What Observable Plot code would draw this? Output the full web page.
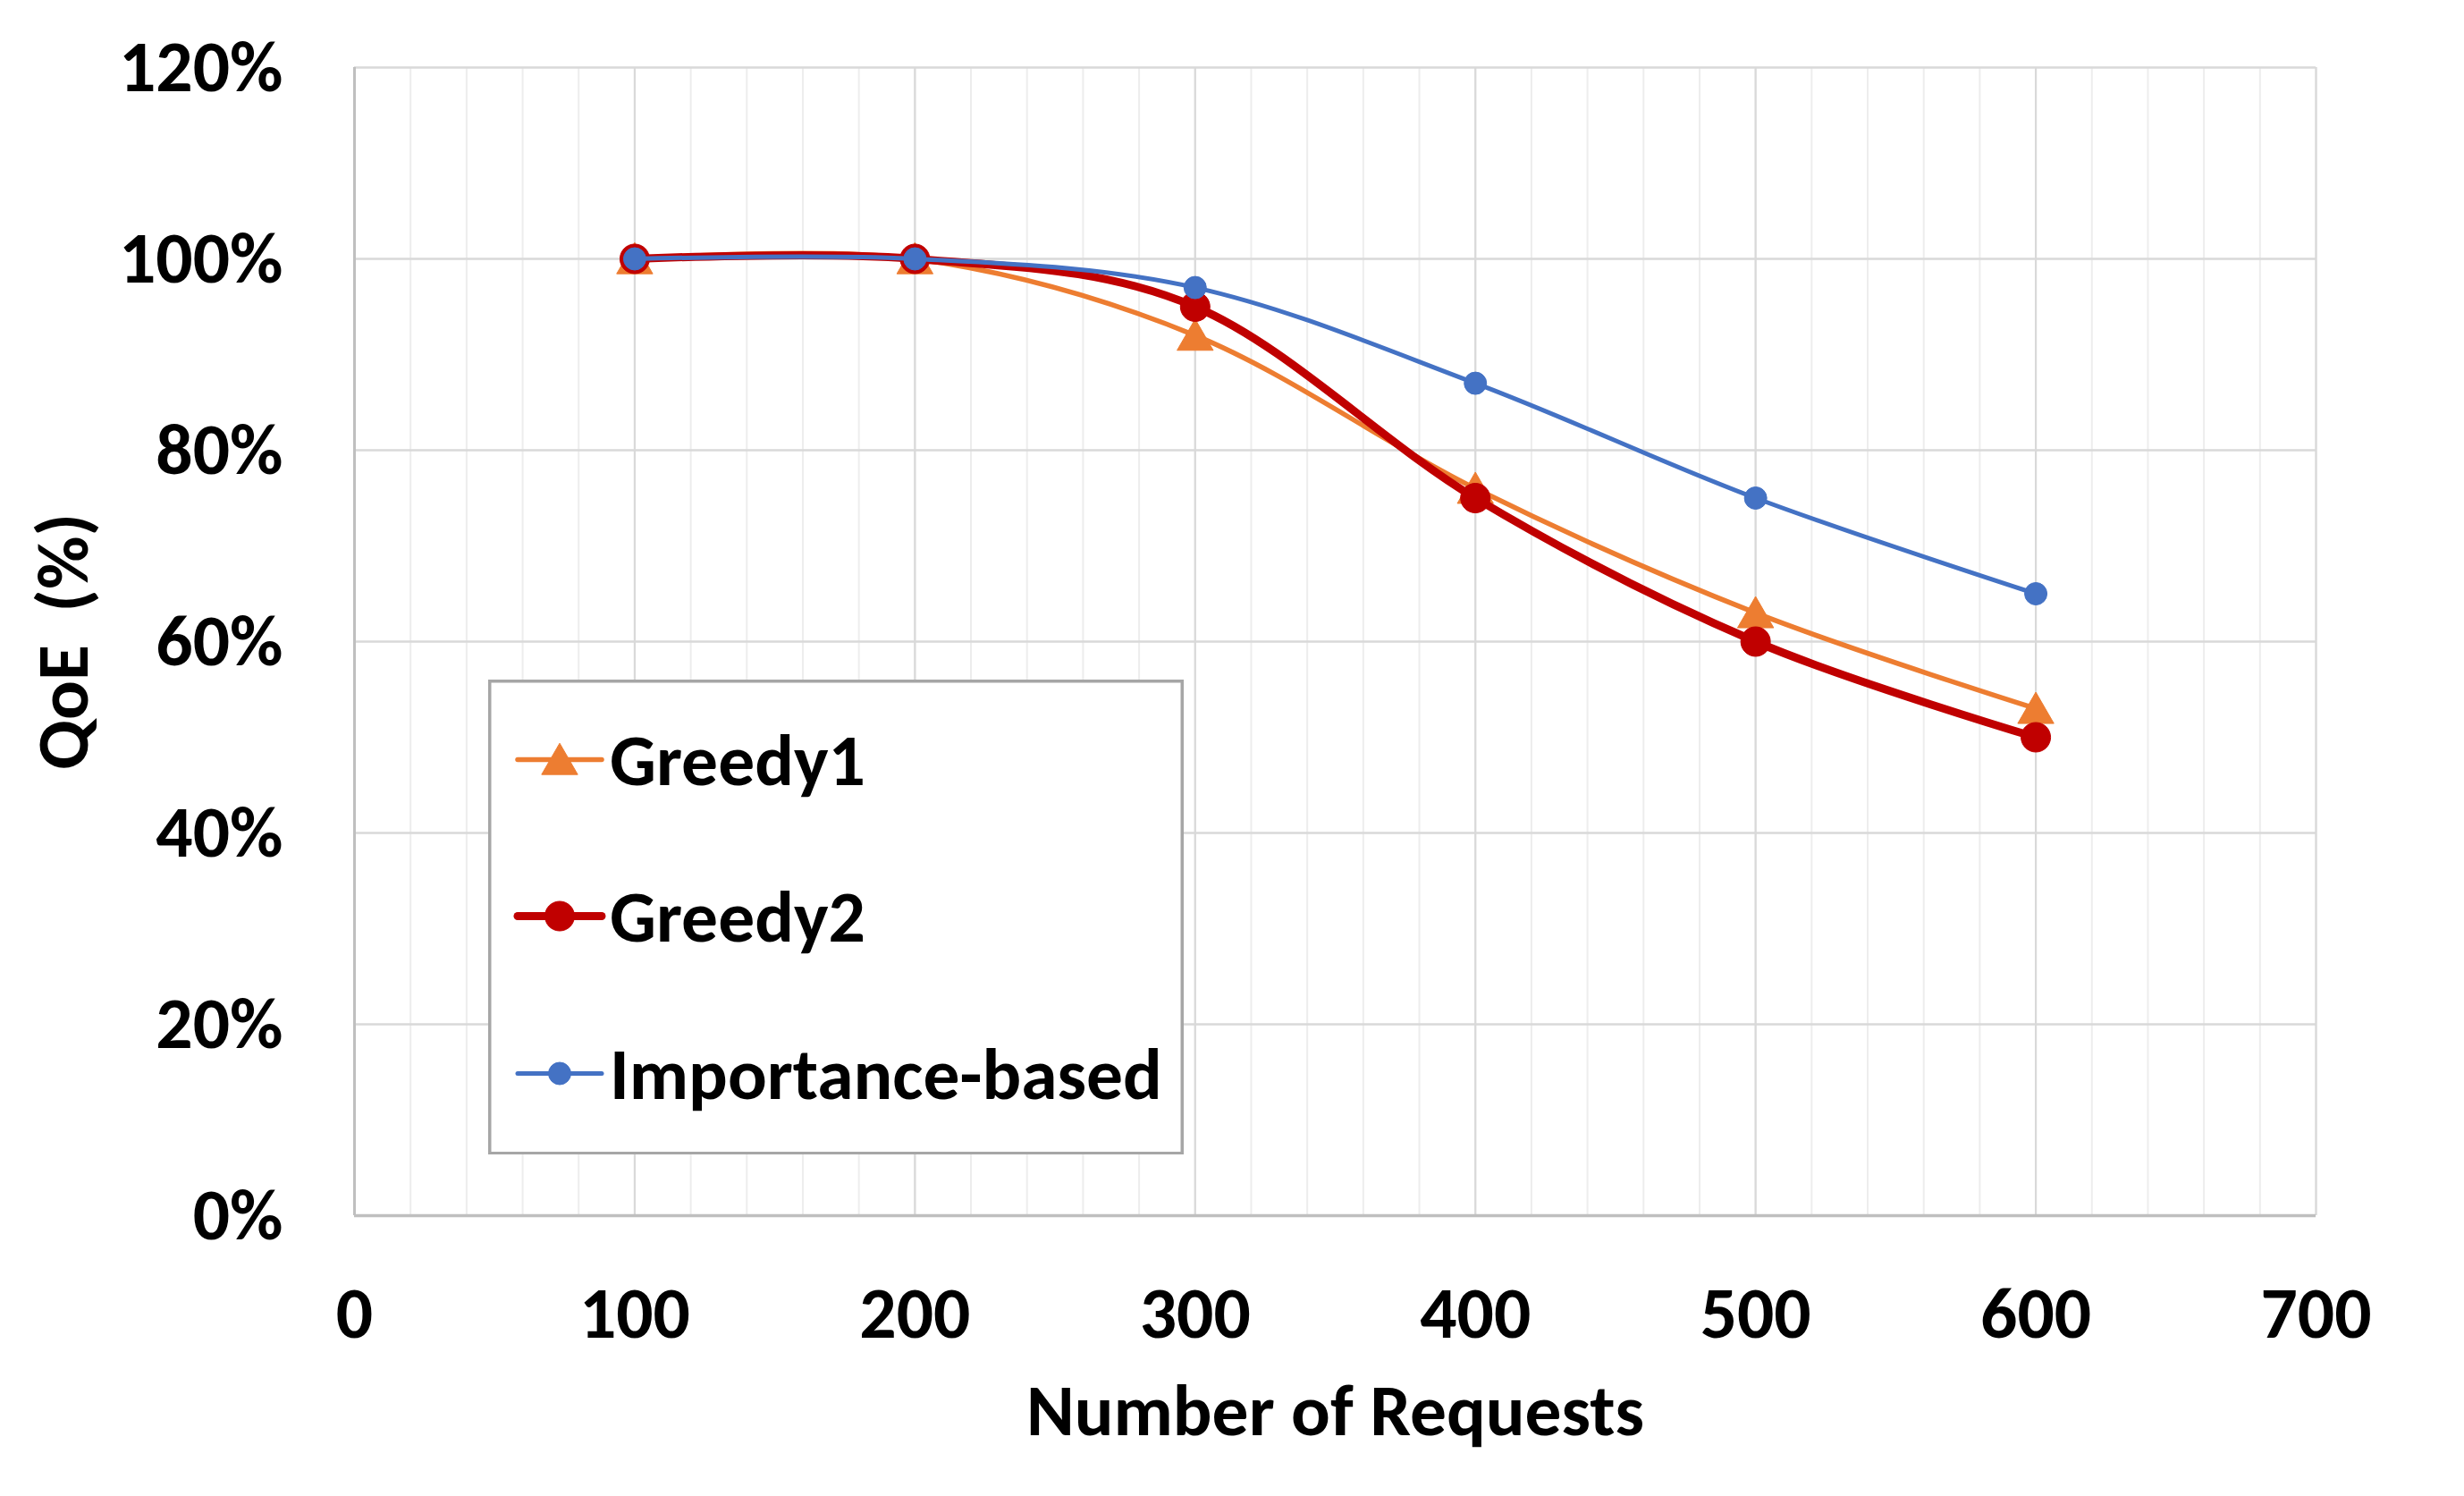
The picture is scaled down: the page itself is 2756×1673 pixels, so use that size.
<!DOCTYPE html>
<html>
<head>
<meta charset="utf-8">
<script src="https://cdn.jsdelivr.net/npm/d3@7"></script>
<script src="https://cdn.jsdelivr.net/npm/@observablehq/plot@0.6"></script>
<style>
html, body { margin: 0; padding: 0; background: #ffffff; }
#wrap { position: relative; width: 2756px; height: 1673px; overflow: hidden; background: #ffffff; }
#legend { position: absolute; }
</style>
</head>
<body>
<div id="wrap"></div>
<script>
// ---------------- data ----------------
const xValues = [100, 200, 300, 400, 500, 600];
const greedy1 = [1.00, 1.00, 0.92, 0.76, 0.63, 0.53];
const greedy2 = [1.00, 1.00, 0.95, 0.75, 0.60, 0.50];
const importanceBased = [1.00, 1.00, 0.97, 0.87, 0.75, 0.65];

const seriesNames = ["Greedy1", "Greedy2", "Importance-based"];
const seriesColors = ["#ED7D31", "#C00000", "#4472C4"];
const seriesSymbols = ["triangle", "circle", "circle"];

const xTicks = [0, 100, 200, 300, 400, 500, 600, 700];
const xTickLabels = ["0", "100", "200", "300", "400", "500", "600", "700"];
const yTicks = [0, 0.2, 0.4, 0.6, 0.8, 1.0, 1.2];
const yTickLabels = ["0%", "20%", "40%", "60%", "80%", "100%", "120%"];
const xTitle = "Number of Requests";
const yTitle = "QoE  (%)";

// ---------------- style ----------------
const W = 2756, H = 1673;
const mL = 396, mR = 166, mT = 75, mB = 314;
const lineWidths = [5.5, 9, 5];
const markerR = [15, 16.5, 12.5];
const FONT = '"Carlito", "Calibri", "Lato", sans-serif';
const ctx = document.createElement("canvas").getContext("2d");
ctx.font = `bold 100px ${FONT}`;
const fs = 100 * 618 / ctx.measureText("Importance-based").width;

const seriesValues = [greedy1, greedy2, importanceBased];
const series = seriesNames.map((name, i) => ({
  name, color: seriesColors[i], symbol: seriesSymbols[i],
  rows: xValues.map((x, j) => ({x, y: seriesValues[i][j]}))
}));

const xMinor = d3.range(0, 701, 20);

const seriesMarks = series.flatMap((s, i) => [
  Plot.line(s.rows, {x: "x", y: "y", stroke: s.color, strokeWidth: lineWidths[i], curve: "cardinal", tension: 0, strokeLinejoin: "round", strokeLinecap: "round"}),
  Plot.dot(s.rows, {x: "x", y: "y", symbol: s.symbol, r: markerR[i], fill: s.color, stroke: s.color, strokeWidth: 1, dy: s.symbol === "triangle" ? 5 : 0})
]);

const chart = Plot.plot({
  width: W, height: H,
  marginLeft: mL, marginRight: mR, marginTop: mT, marginBottom: mB,
  style: {fontFamily: FONT, fontSize: fs + "px", fontWeight: "bold", color: "#000000", background: "#ffffff", overflow: "visible"},
  x: {domain: [0, 700]},
  y: {domain: [0, 1.2]},
  marks: [
    Plot.ruleX(xMinor, {stroke: "#EDEDED", strokeWidth: 2}),
    Plot.ruleX(xTicks, {stroke: "#D9D9D9", strokeWidth: 2.2}),
    Plot.ruleY(yTicks, {stroke: "#D9D9D9", strokeWidth: 2.5}),
    Plot.ruleX([0], {stroke: "#BFBFBF", strokeWidth: 3}),
    Plot.ruleY([0], {stroke: "#BFBFBF", strokeWidth: 3.5}),
    ...seriesMarks,
    Plot.axisX({ticks: xTicks, tickSize: 0, tickPadding: 79, label: null, tickFormat: d => xTickLabels[xTicks.indexOf(d)]}),
    Plot.axisY({ticks: yTicks, tickSize: 0, tickPadding: 80, label: null, tickFormat: d => yTickLabels[yTicks.indexOf(d)]}),
    Plot.text([xTitle], {text: d => d, frameAnchor: "bottom", lineAnchor: "bottom", textAnchor: "middle", dy: 245}),
    Plot.text([yTitle], {text: d => d, frameAnchor: "left", lineAnchor: "bottom", textAnchor: "middle", rotate: -90, dx: -299})
  ]
});
document.getElementById("wrap").appendChild(chart);

// ---------------- legend (overlay) ----------------
const LX = 546, LY = 759.5, LW = 778, LH = 531.5, BW = 3.5;
const rowY = [89.5, 264.5, 440.5];
const lg = d3.select("#wrap").append("svg")
  .attr("id", "legend")
  .attr("width", LW).attr("height", LH)
  .style("left", LX + "px").style("top", LY + "px")
  .style("font-family", FONT).style("font-weight", "bold").style("font-size", fs + "px");
lg.append("rect").attr("x", BW / 2).attr("y", BW / 2).attr("width", LW - BW).attr("height", LH - BW)
  .attr("fill", "#ffffff").attr("stroke", "#A6A6A6").attr("stroke-width", BW);
series.forEach((s, i) => {
  const g = lg.append("g").attr("transform", `translate(0,${rowY[i]})`);
  g.append("line").attr("x1", 33).attr("x2", 127).attr("y1", 0).attr("y2", 0)
    .attr("stroke", s.color).attr("stroke-width", lineWidths[i]).attr("stroke-linecap", "round");
  const sym = s.symbol === "triangle" ? d3.symbolTriangle : d3.symbolCircle;
  g.append("path").attr("d", d3.symbol(sym, Math.PI * markerR[i] * markerR[i])())
    .attr("transform", `translate(80,${s.symbol === "triangle" ? 5 : 0})`)
    .attr("fill", s.color).attr("stroke", s.color).attr("stroke-width", 1);
  g.append("text").attr("x", 136).attr("y", 0).attr("dy", "0.35em").attr("fill", "#000000").text(s.name);
});
</script>
</body>
</html>
